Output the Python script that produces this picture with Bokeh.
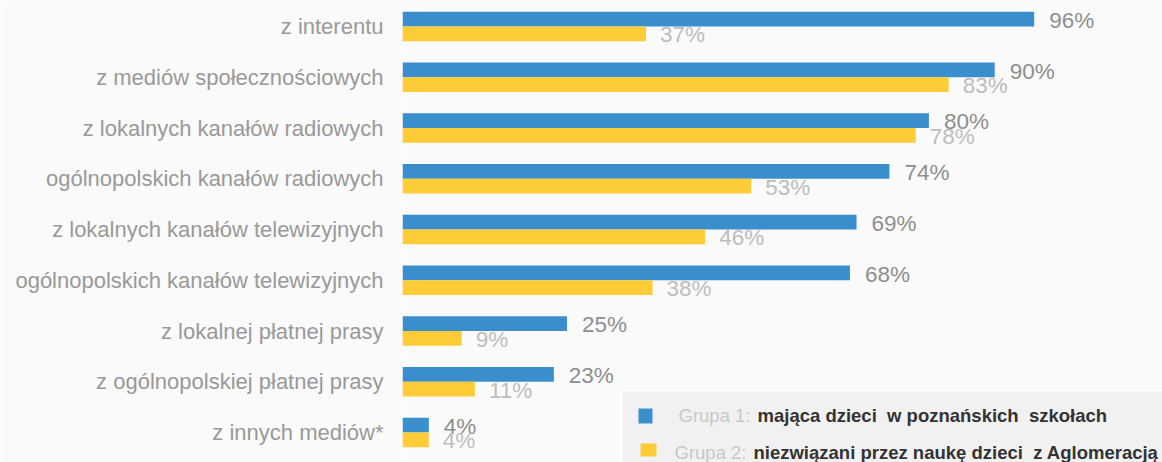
from bokeh.plotting import figure
from bokeh.models import ColumnDataSource, Range1d, FixedTicker
from bokeh.embed import file_html
from bokeh.resources import INLINE
from bokeh.core.properties import value

categories = [
    "z interentu",
    "z mediów społecznościowych",
    "z lokalnych kanałów radiowych",
    "ogólnopolskich kanałów radiowych",
    "z lokalnych kanałów telewizyjnych",
    "ogólnopolskich kanałów telewizyjnych",
    "z lokalnej płatnej prasy",
    "z ogólnopolskiej płatnej prasy",
    "z innych mediów*",
]
group1 = [96, 90, 80, 74, 69, 68, 25, 23, 4]
group2 = [37, 83, 78, 53, 46, 38, 9, 11, 4]
legend_prefix = ["Grupa 1: ", "Grupa 2: "]
legend_labels = ["mająca dzieci \u00a0w poznańskich \u00a0szkołach",
                 "niezwiązani przez naukę dzieci \u00a0z Aglomeracją"]

BLUE = "#3a8ecb"
YELLOW = "#fdcc36"
BG = "#fafafa"
FONT = "Liberation Sans"

W, H = 1162, 462
LEFT = 402
PX_PER_PCT = 6.58
ROW_PX = 50.75
TOP_PX = 26.0  # center of first category, in figure pixels

def sx(screen_x):
    return (screen_x - LEFT) / PX_PER_PCT

def sy(screen_y):
    return (screen_y - TOP_PX) / ROW_PX

p = figure(width=W, height=H, output_backend="svg", toolbar_location=None,
           x_axis_location=None,
           x_range=Range1d(0, (W - LEFT) / PX_PER_PCT),
           y_range=Range1d(start=(H - TOP_PX) / ROW_PX, end=-TOP_PX / ROW_PX),
           min_border_left=LEFT, min_border_right=0, min_border_top=0, min_border_bottom=0)
p.background_fill_color = BG
p.border_fill_color = BG
p.outline_line_color = None
p.xgrid.visible = False
p.ygrid.visible = False

n = len(categories)
idx = list(range(n))
off = 0.145
src = ColumnDataSource(dict(
    yb=[i - off for i in idx],
    yy=[i + off for i in idx],
    g1=group1, g2=group2,
    t1=[f"{v}%" for v in group1],
    t2=[f"{v}%" for v in group2],
    lb=[i - off + 0.025 for i in idx],
    ly=[i + off + 0.02 for i in idx],
))

# legend background
p.quad(left=[sx(622)], right=[sx(1200)], top=[sy(391)], bottom=[sy(500)],
       fill_color="#f1f1f1", line_color=None)

p.hbar(y="yb", right="g1", left=0, height=0.29, source=src, fill_color=BLUE, line_color=None)
p.hbar(y="yy", right="g2", left=0, height=0.29, source=src, fill_color=YELLOW, line_color=None)

p.text(x="g1", y="lb", text="t1", source=src, x_offset=15,
       text_font=value(FONT), text_font_size=value("22.5px"), text_color="#8e8e8e",
       text_baseline="middle", text_align="left")
p.text(x="g2", y="ly", text="t2", source=src, x_offset=14,
       text_font=value(FONT), text_font_size=value("22.5px"), text_color="#bdbdbd",
       text_baseline="middle", text_align="left")

# legend
p.rect(x=[sx(645), sx(648)], y=[sy(415.5), sy(449.5)], width=[14, 16], height=[15, 13],
       width_units="screen", height_units="screen",
       fill_color=[BLUE, YELLOW], line_color=None)
p.text(x=[sx(678), sx(674)], y=[sy(414.5), sy(452)], text=legend_prefix,
       text_font=value(FONT), text_font_size=value("18.5px"), text_color="#c8c8c8",
       text_baseline="middle", text_align="left")
p.text(x=[sx(757), sx(753)], y=[sy(414.5), sy(452)], text=legend_labels,
       text_font=value(FONT), text_font_size=value("18.5px"), text_color="#333333",
       text_font_style="bold", text_baseline="middle", text_align="left")

ax = p.yaxis[0]
ax.ticker = FixedTicker(ticks=idx)
ax.major_label_overrides = {i: c for i, c in zip(idx, categories)}
ax.major_tick_line_color = None
ax.minor_tick_line_color = None
ax.axis_line_color = None
ax.major_tick_out = 0
ax.major_tick_in = 0
ax.major_label_standoff = 19
ax.major_label_text_font = FONT
ax.major_label_text_font_size = "22px"
ax.major_label_text_color = "#999999"

open("out.html", "w").write(file_html(p, INLINE))
